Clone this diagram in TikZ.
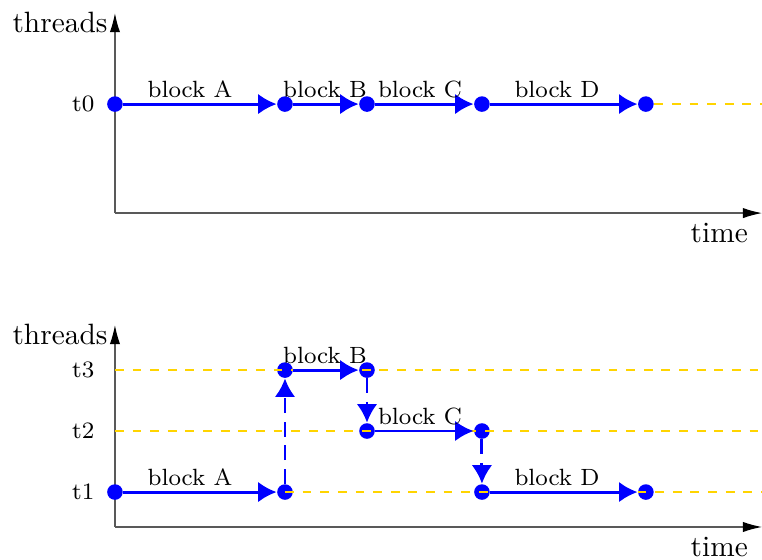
\documentclass[tikz,border=0pt]{standalone}
\usetikzlibrary{arrows.meta}
\definecolor{guidegold}{RGB}{255,212,0}

\begin{document}
\begin{tikzpicture}[
		axis/.style={draw=black!65, thin, -{Latex[length=6.5pt,width=3.5pt,color=black]}},
		dot/.style={circle, fill=blue, inner sep=0pt, minimum size=5.3pt},
		run/.style={draw=blue, line width=1pt, -{Latex[length=6.3pt,width=7pt]}},
		hop/.style={run, dash pattern=on 5pt off 3pt},
		guide/.style={draw=guidegold, line width=0.6pt, dashed},
		blocklabel/.style={above, inner sep=1.5pt, font=\footnotesize},
		ticklabel/.style={anchor=east, font=\footnotesize},
		timelabel/.style={below left, xshift=-1.3pt},
	]
	\useasboundingbox (0,0) rectangle (9.115,6.687);
	% Upper plot: everything on one thread
	\coordinate (o0) at (1.375,4.138);
	\coordinate (ytop0) at (1.375,6.53);
	\coordinate (xend0) at (9.115,4.138);
	\coordinate (t0end) at (9.115,5.442);
	\draw[axis] (o0) -- (ytop0);
	\draw[axis] (o0) -- (xend0);
	\node (threads0) [anchor=east] at (1.41,6.42) {threads};
	\node (time0) [timelabel] at (xend0) {time};
	\node (t0) [ticklabel] at (1.253,5.442) {t0};
	\node (p0) [dot] at (1.375,5.442) {};
	\node (p1) [dot] at (3.409,5.442) {};
	\node (p2) [dot] at (4.390,5.442) {};
	\node (p3) [dot] at (5.765,5.442) {};
	\node (p4) [dot] at (7.726,5.442) {};
	\draw[guide] (p4) -- (t0end);
	\draw[run] (p0) -- node[blocklabel,pos=0.435]{block A} (p1);
	\draw[run] (p1) -- node[blocklabel,pos=0.485]{block B} (p2);
	\draw[run] (p2) -- node[blocklabel,pos=0.455]{block C} (p3);
	\draw[run] (p3) -- node[blocklabel,pos=0.453]{block D} (p4);

	% Lower plot: blocks hop between three threads
	\coordinate (o1) at (1.375,0.383);
	\coordinate (ytop1) at (1.375,2.799);
	\coordinate (xend1) at (9.115,0.383);
	\coordinate (t3start) at (1.375,2.260);
	\coordinate (t3end) at (9.115,2.260);
	\coordinate (t2start) at (1.375,1.531);
	\coordinate (t2end) at (9.115,1.531);
	\coordinate (t1end) at (9.115,0.801);
	\draw[axis] (o1) -- (ytop1);
	\draw[axis] (o1) -- (xend1);
	\node (threads1) [anchor=east] at (1.41,2.691) {threads};
	\node (time1) [timelabel] at (xend1) {time};
	\node (t3) [ticklabel] at (1.253,2.260) {t3};
	\node (t2) [ticklabel] at (1.253,1.531) {t2};
	\node (t1) [ticklabel] at (1.253,0.801) {t1};
	\node (a1) [dot] at (1.375,0.801) {};
	\node (a2) [dot] at (3.409,0.801) {};
	\node (b1) [dot] at (3.409,2.260) {};
	\node (b2) [dot] at (4.390,2.260) {};
	\node (c1) [dot] at (4.390,1.531) {};
	\node (c2) [dot] at (5.765,1.531) {};
	\node (d1) [dot] at (5.765,0.801) {};
	\node (d2) [dot] at (7.726,0.801) {};
	% guide lines go over the dots, under the arrows
	\draw[guide] (t3start) -- (t3end);
	\draw[guide] (t2start) -- (t2end);
	\draw[guide] (a2.center) -- (t1end);
	\draw[run] (a1) -- node[blocklabel,pos=0.435]{block A} (a2);
	\draw[hop] (a2) -- (b1);
	\draw[run] (b1) -- node[blocklabel,pos=0.485]{block B} (b2);
	\draw[hop] (b2) -- (c1);
	\draw[run] (c1) -- node[blocklabel,pos=0.455]{block C} (c2);
	\draw[hop] (c2) -- (d1);
	\draw[run] (d1) -- node[blocklabel,pos=0.453]{block D} (d2);
\end{tikzpicture}
\end{document}
